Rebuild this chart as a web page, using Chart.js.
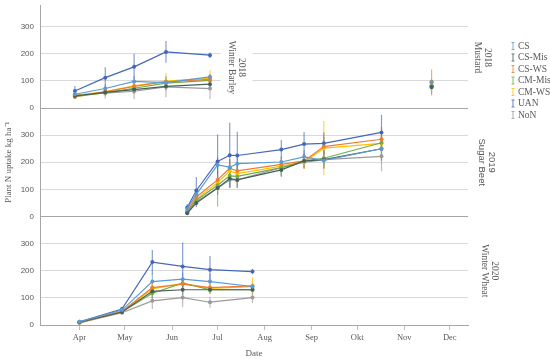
<!DOCTYPE html>
<html>
<head>
<meta charset="utf-8">
<script src="https://cdn.jsdelivr.net/npm/chart.js@4.4.1/dist/chart.umd.min.js"></script>
<style>
  html, body { margin: 0; padding: 0; background: #fff; }
  #wrap { width: 550px; height: 359px; }
</style>
</head>
<body>
<div id="wrap"><canvas id="myChart"></canvas></div>
<script>
const treatments = ['CS', 'CS-Mis', 'CS-WS', 'CM-Mis', 'CM-WS', 'UAN', 'NoN'];
const colors = ['#5b9bd5', '#47605a', '#ed7d31', '#70ad47', '#ffc000', '#4468b8', '#9a9a9a'];

// x axis is day of year, ticks on the first of each month
const monthTicks = [91, 121, 152, 182, 213, 244, 274, 305, 335];
const monthLabels = ['Apr', 'May', 'Jun', 'Jul', 'Aug', 'Sep', 'Okt', 'Nov', 'Dec'];
const yTicks = [0, 100, 200, 300];

// 2018 winter barley (one row per treatment, same order as treatments)
const dates2018 = [88, 108, 127, 148, 177];
const barley2018 = [
    [51, 72, 98, 94, 115],
    [45, 58, 68, 80, 88],
    [42, 60, 80, 97, 106],
    [42, 57, 73, 92, 102],
    [46, 61, 82, 99, 110],
    [63, 112, 152, 207, 195],
    [48, 55, 62, 78, 72]
];
const barley2018Err = [
    [8, 15, 20, 12, 10],
    [8, 12, 15, 15, 15],
    [8, 12, 15, 20, 20],
    [8, 10, 12, 15, 15],
    [10, 12, 15, 30, 30],
    [18, 38, 48, 40, 10],
    [8, 20, 30, 38, 40]
];

// 2018 mustard, a single sampling date
const datesMustard = [323];
const mustard2018 = [95, 78, 97, 82, 85, 80, 76];
const mustard2018Err = [10, 10, 45, 10, 10, 10, 30];

// 2019 sugar beet
const dates2019 = [162, 168, 182, 190, 195, 224, 239, 252, 290];
const beet2019 = [
    [28, 82, 190, 182, 195, 201, 220, 207, 250],
    [12, 50, 105, 140, 135, 172, 205, 210, 250],
    [20, 72, 135, 178, 168, 192, 205, 258, 285],
    [15, 60, 115, 150, 148, 180, 205, 215, 272],
    [18, 65, 125, 168, 158, 186, 200, 252, 270],
    [33, 96, 203, 226, 225, 247, 267, 270, 310],
    [15, 55, 105, 135, 135, 180, 200, 210, 222]
];
const beet2019Err = [
    [8, 15, 30, 30, 30, 20, 25, 30, 40],
    [6, 15, 25, 30, 30, 25, 25, 30, 45],
    [8, 15, 30, 30, 30, 25, 25, 35, 45],
    [6, 15, 78, 45, 40, 30, 25, 35, 40],
    [6, 15, 30, 35, 35, 30, 25, 100, 40],
    [12, 50, 100, 120, 88, 35, 45, 40, 65],
    [6, 15, 25, 30, 30, 30, 25, 35, 55]
];

// 2020 winter wheat
const dates2020 = [91, 119, 139, 159, 177, 205];
const wheat2020 = [
    [12, 55, 160, 169, 160, 142],
    [10, 48, 124, 130, 130, 130],
    [9, 50, 138, 151, 138, 144],
    [9, 48, 117, 154, 130, 130],
    [9, 50, 133, 154, 135, 141],
    [12, 59, 232, 216, 204, 197],
    [8, 45, 89, 101, 84, 101]
];
const wheat2020Err = [
    [3, 8, 30, 25, 30, 10],
    [3, 6, 20, 20, 15, 10],
    [3, 6, 20, 15, 15, 15],
    [3, 6, 20, 15, 15, 10],
    [3, 6, 25, 20, 20, 35],
    [4, 8, 45, 88, 50, 10],
    [3, 6, 30, 35, 20, 20]
];

const panelLabels = {
    y2018: ['2018', 'Mustard'],
    y2019: ['2019', 'Sugar Beet'],
    y2020: ['2020', 'Winter Wheat']
};

function series(dates, values, errs, axis, i) {
    return {
        label: treatments[i],
        data: dates.map((d, k) => ({ x: d, y: values[k] })),
        errors: errs,
        yAxisID: axis,
        borderColor: colors[i],
        backgroundColor: colors[i],
        borderWidth: 1.2,
        pointRadius: 2,
        pointBorderWidth: 0,
        tension: 0,
        order: i
    };
}

let datasets = [];
treatments.forEach((t, i) => {
    datasets.push(series(dates2018, barley2018[i], barley2018Err[i], 'y2018', i));
    datasets.push(series(datesMustard, [mustard2018[i]], [mustard2018Err[i]], 'y2018', i));
    datasets.push(series(dates2019, beet2019[i], beet2019Err[i], 'y2019', i));
    datasets.push(series(dates2020, wheat2020[i], wheat2020Err[i], 'y2020', i));
});

const greyText = '#595959';
const serif = 'Liberation Serif';

// vertical error bars drawn behind the lines
const errorBars = {
    id: 'errorBars',
    beforeDatasetsDraw(chart) {
        const ctx = chart.ctx;
        chart.data.datasets.forEach((ds, i) => {
            const meta = chart.getDatasetMeta(i);
            const yScale = chart.scales[ds.yAxisID];
            ctx.save();
            ctx.strokeStyle = ds.borderColor;
            ctx.globalAlpha = 0.65;
            ctx.lineWidth = 1.2;
            meta.data.forEach((pt, k) => {
                const v = ds.data[k].y, e = ds.errors[k];
                ctx.beginPath();
                ctx.moveTo(pt.x, yScale.getPixelForValue(v + e));
                ctx.lineTo(pt.x, yScale.getPixelForValue(v - e));
                ctx.stroke();
            });
            ctx.restore();
        });
    }
};

function drawRotatedLabel(ctx, lines, cx, cy, font, bg) {
    ctx.save();
    ctx.translate(cx, cy);
    ctx.rotate(Math.PI / 2);
    ctx.font = font;
    ctx.textAlign = 'center';
    ctx.textBaseline = 'middle';
    const lh = 10;
    if (bg) {
        ctx.fillStyle = '#fff';
        ctx.fillRect(-29, -16, 58, 32);
    }
    ctx.fillStyle = greyText;
    lines.forEach((l, k) => {
        ctx.fillText(l, 0, (k - (lines.length - 1) / 2) * lh);
    });
    ctx.restore();
}

// facet labels and the legend with small error bar symbols
const decorations = {
    id: 'decorations',
    beforeDatasetsDraw(chart) {
        const y18 = chart.scales.y2018;
        const xs = chart.scales.x;
        drawRotatedLabel(chart.ctx, ['2018', 'Winter Barley'], xs.getPixelForValue(194.5),
            (y18.top + y18.bottom) / 2 + 11, '9.5px ' + serif, true);
    },
    afterDraw(chart) {
        const ctx = chart.ctx;
        const right = chart.chartArea.right;
        const s18 = chart.scales.y2018, s19 = chart.scales.y2019, s20 = chart.scales.y2020;
        drawRotatedLabel(ctx, panelLabels.y2018, right + 14, (s18.top + s18.bottom) / 2 + 1, '9.5px ' + serif);
        drawRotatedLabel(ctx, panelLabels.y2019, right + 19, (s19.top + s19.bottom) / 2, '9.5px Liberation Sans');
        drawRotatedLabel(ctx, panelLabels.y2020, right + 21, (s20.top + s20.bottom) / 2, '9.5px ' + serif);

        ctx.save();
        ctx.font = '9.5px ' + serif;
        ctx.textBaseline = 'middle';
        treatments.forEach((t, i) => {
            const y = 46 + i * 11.5;
            const x = 513;
            ctx.strokeStyle = colors[i];
            ctx.globalAlpha = 0.8;
            ctx.lineWidth = 1;
            ctx.beginPath();
            ctx.moveTo(x, y - 3.5); ctx.lineTo(x, y + 3.5);
            ctx.moveTo(x - 1.5, y - 3.5); ctx.lineTo(x + 1.5, y - 3.5);
            ctx.moveTo(x - 1.5, y + 3.5); ctx.lineTo(x + 1.5, y + 3.5);
            ctx.stroke();
            ctx.globalAlpha = 1;
            ctx.fillStyle = greyText;
            ctx.fillText(t, x + 5, y);
        });
        ctx.restore();
    }
};

function yAxis(max, showTitle) {
    return {
        type: 'linear',
        position: 'left',
        stack: 'panels',
        stackWeight: max,
        min: 0,
        max: max,
        afterBuildTicks: s => { s.ticks = yTicks.map(v => ({ value: v })); },
        afterFit: s => { s.width = 40; s.paddingTop = 0; s.paddingBottom = 0; },
        grid: {
            color: c => (c.tick && c.tick.value === 0) ? '#a6a6a6' : '#d9d9d9',
            lineWidth: 1,
            drawTicks: false
        },
        border: { display: true, color: '#a6a6a6' },
        ticks: { padding: 6, font: { family: 'Liberation Sans', size: 8 }, color: greyText },
        title: {
            display: showTitle,
            text: 'Plant N uptake kg ha⁻¹',
            font: { family: serif, size: 9 },
            color: greyText,
            padding: { top: 3, bottom: 0 }
        }
    };
}

document.addEventListener('DOMContentLoaded', function () {
    let ctx = document.getElementById('myChart').getContext('2d');
    new Chart(ctx, {
        type: 'line',
        data: { datasets: datasets },
        options: {
            responsive: true,
            maintainAspectRatio: false,
            animation: false,
            layout: { padding: { left: 0, right: 82, top: 5, bottom: 0 } },
            plugins: {
                legend: { display: false },
                tooltip: { enabled: false }
            },
            scales: {
                x: {
                    type: 'linear',
                    position: 'bottom',
                    min: 65,
                    max: 347,
                    afterBuildTicks: s => { s.ticks = monthTicks.map(v => ({ value: v })); },
                    afterFit: s => { s.height = 34; s.paddingLeft = 0; s.paddingRight = 0; },
                    ticks: {
                        callback: v => monthLabels[monthTicks.indexOf(v)],
                        autoSkip: false,
                        maxRotation: 0,
                        padding: 3,
                        font: { family: serif, size: 8.5 },
                        color: greyText
                    },
                    grid: { drawOnChartArea: false, drawTicks: true, tickLength: 5, color: '#bfbfbf' },
                    border: { color: '#a6a6a6' },
                    title: {
                        display: true,
                        text: 'Date',
                        font: { family: serif, size: 9 },
                        color: greyText,
                        padding: { top: 0, bottom: 0 }
                    }
                },
                y2020: yAxis(400, false),
                y2019: yAxis(400, true),
                y2018: yAxis(380, false)
            }
        },
        plugins: [errorBars, decorations]
    });
});
</script>
</body>
</html>
